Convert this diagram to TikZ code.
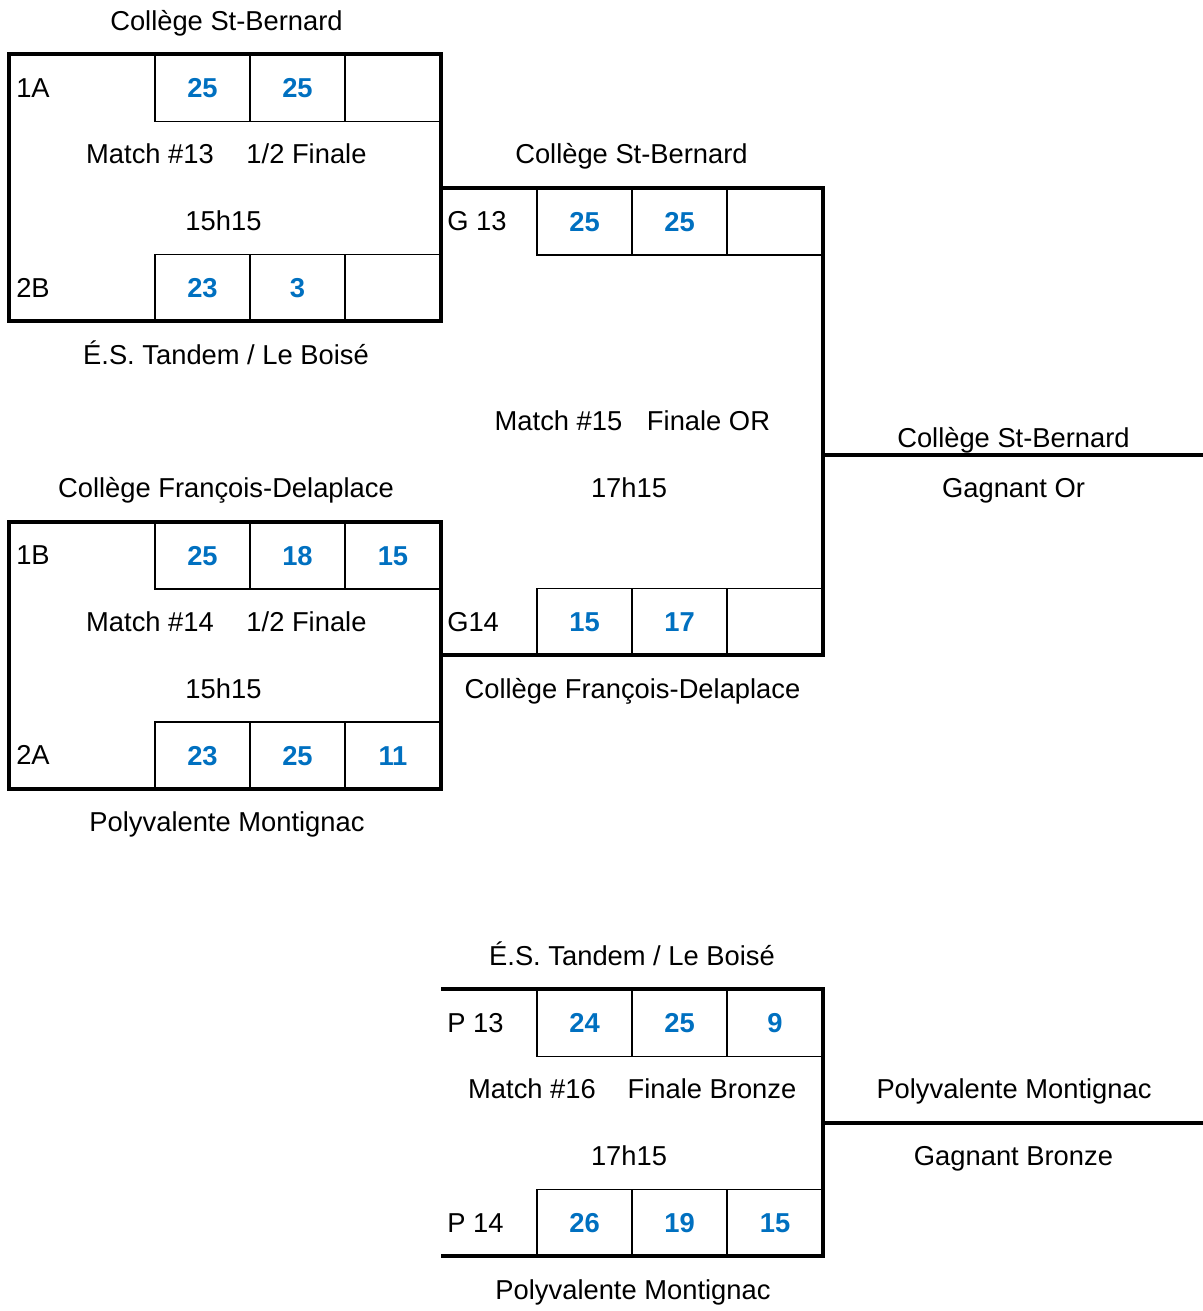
\documentclass[tikz,border=0pt]{standalone}
\usepackage{fontspec}
\setmainfont{Liberation Sans}
\usepackage{tikz}
\usetikzlibrary{calc}
\definecolor{score_blue}{RGB}{0, 112, 192}
\newcommand{\bracketfont}{\fontsize{20.5}{24}\selectfont}
\tikzstyle{lbl}=[inner sep=0pt,text height=14.25pt,text depth=0pt,font=\bracketfont]
\tikzstyle{side}=[lbl,anchor=west]
\tikzstyle{score}=[rectangle,draw=black,line width=1.1pt,inner sep=0pt,
  minimum width=71.4pt,minimum height=50.1pt,text height=14.25pt,text depth=0pt,
  text=score_blue,font=\bracketfont\bfseries]
\tikzstyle{bar}=[line width=2.4pt]
\tikzstyle{none}=[]

\begin{document}
\begin{tikzpicture}[x=0.75pt,y=-0.75pt]
        \useasboundingbox (0,0) rectangle (1203,1311);
        % match 13
        \node [style=lbl] (0) at (226.5,20.6) {Collège St-Bernard};
        \node [style=side] (1) at (16,87.5) {1A};
        \node [style=score] (2) at (202.5,88) {25};
        \node [style=score] (3) at (297.5,88) {25};
        \node [style=score] (4) at (393,88) {};
        \node [style=lbl] (5) at (150,154.2) {Match \#13};
        \node [style=lbl] (6) at (306.5,154.2) {1/2 Finale};
        \node [style=lbl] (7) at (223.5,221) {15h15};
        \node [style=side] (8) at (16,287.8) {2B};
        \node [style=score] (9) at (202.5,288) {23};
        \node [style=score] (10) at (297.5,288) {3};
        \node [style=score] (11) at (393,288) {};
        \node [style=lbl] (12) at (226,354.6) {É.S. Tandem / Le Boisé};
        % match 14
        \node [style=lbl] (13) at (226,488.2) {Collège François-Delaplace};
        \node [style=side] (14) at (16,555) {1B};
        \node [style=score] (15) at (202.5,555.5) {25};
        \node [style=score] (16) at (297.5,555.5) {18};
        \node [style=score] (17) at (393,555.5) {15};
        \node [style=lbl] (18) at (150,621.8) {Match \#14};
        \node [style=lbl] (19) at (306.5,621.8) {1/2 Finale};
        \node [style=lbl] (20) at (223.5,688.6) {15h15};
        \node [style=side] (21) at (16,755.4) {2A};
        \node [style=score] (22) at (202.5,755.5) {23};
        \node [style=score] (23) at (297.5,755.5) {25};
        \node [style=score] (24) at (393,755.5) {11};
        \node [style=lbl] (25) at (227,822.2) {Polyvalente Montignac};
        % match 15
        \node [style=lbl] (26) at (631.5,154.2) {Collège St-Bernard};
        \node [style=side] (27) at (447,221) {G 13};
        \node [style=score] (28) at (584.5,221.5) {25};
        \node [style=score] (29) at (679.5,221.5) {25};
        \node [style=score] (30) at (775,221.5) {};
        \node [style=lbl] (31) at (558.5,421.4) {Match \#15};
        \node [style=lbl] (32) at (708.5,421.4) {Finale OR};
        \node [style=lbl] (33) at (629,488.2) {17h15};
        \node [style=side] (34) at (447,621.8) {G14};
        \node [style=score] (35) at (584.5,622) {15};
        \node [style=score] (36) at (679.5,622) {17};
        \node [style=score] (37) at (775,622) {};
        \node [style=lbl] (38) at (632.5,688.6) {Collège François-Delaplace};
        \node [style=lbl] (39) at (1013.5,438) {Collège St-Bernard};
        \node [style=lbl] (40) at (1013.5,488.2) {Gagnant Or};
        % match 16
        \node [style=lbl] (41) at (632,955.8) {É.S. Tandem / Le Boisé};
        \node [style=side] (42) at (447,1022.6) {P 13};
        \node [style=score] (43) at (584.5,1023) {24};
        \node [style=score] (44) at (679.5,1023) {25};
        \node [style=score] (45) at (775,1023) {9};
        \node [style=lbl] (46) at (532,1089.4) {Match \#16};
        \node [style=lbl] (47) at (712,1089.4) {Finale Bronze};
        \node [style=lbl] (48) at (629,1156.2) {17h15};
        \node [style=side] (49) at (447,1223) {P 14};
        \node [style=score] (50) at (584.5,1223) {26};
        \node [style=score] (51) at (679.5,1223) {19};
        \node [style=score] (52) at (775,1223) {15};
        \node [style=lbl] (53) at (633,1289.8) {Polyvalente Montignac};
        \node [style=lbl] (54) at (1014,1089.4) {Polyvalente Montignac};
        \node [style=lbl] (55) at (1013.5,1156.2) {Gagnant Bronze};
        % bracket corners
        \coordinate (56) at (9,54);
        \coordinate (57) at (441,321);
        \coordinate (58) at (9,522);
        \coordinate (59) at (441,789);
        \coordinate (60) at (441,188);
        \coordinate (61) at (823,188);
        \coordinate (62) at (823,655);
        \coordinate (63) at (441,655);
        \coordinate (64) at (823,455);
        \coordinate (65) at (1203,455);
        \coordinate (66) at (441,989);
        \coordinate (67) at (823,989);
        \coordinate (68) at (823,1256);
        \coordinate (69) at (441,1256);
        \coordinate (70) at (823,1123);
        \coordinate (71) at (1203,1123);
        \draw [style=bar] (56) rectangle (57);
        \draw [style=bar] (58) rectangle (59);
        \draw [style=bar] (60) to (61) to (62) to (63);
        \draw [style=bar] (64) to (65);
        \draw [style=bar] (66) to (67) to (68) to (69);
        \draw [style=bar] (70) to (71);
    \end{tikzpicture}
\end{document}
